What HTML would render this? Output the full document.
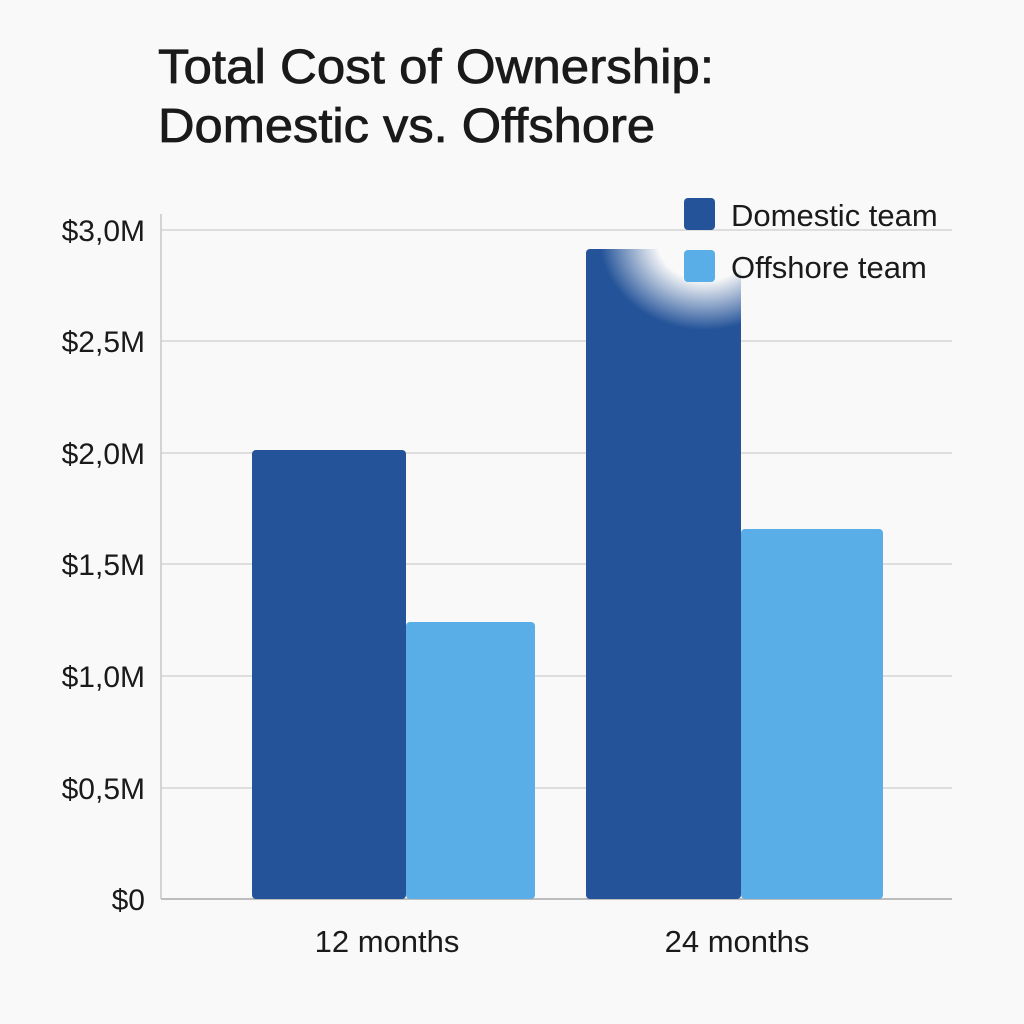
<!DOCTYPE html>
<html><head><style>
body{margin:0;background:#f9f9f9;}
svg{display:block;font-family:"Liberation Sans",sans-serif;}
</style></head><body>
<svg width="1024" height="1024" viewBox="0 0 1024 1024">
<defs>
<radialGradient id="b" cx="0.5" cy="0.5" r="0.5">
<stop offset="0" stop-color="#f9f9f9" stop-opacity="1"/>
<stop offset="0.45" stop-color="#f9f9f9" stop-opacity="1"/>
<stop offset="1" stop-color="#f9f9f9" stop-opacity="0"/>
</radialGradient>
<clipPath id="c"><rect x="586" y="249" width="155" height="650"/></clipPath>
</defs>
<rect width="1024" height="1024" fill="#f9f9f9"/>
<g fill="#1a1a1a" stroke="#1a1a1a" stroke-width="0.8" font-size="48">
<text x="158" y="83" textLength="556" lengthAdjust="spacingAndGlyphs">Total Cost of Ownership:</text>
<text x="158" y="142" textLength="497" lengthAdjust="spacingAndGlyphs">Domestic vs. Offshore</text>
</g>
<g stroke="#d6d6d6" stroke-width="1.5">
<line x1="161" y1="230" x2="952" y2="230"/>
<line x1="161" y1="341" x2="952" y2="341"/>
<line x1="161" y1="453" x2="952" y2="453"/>
<line x1="161" y1="564" x2="952" y2="564"/>
<line x1="161" y1="676" x2="952" y2="676"/>
<line x1="161" y1="788" x2="952" y2="788"/>
</g>
<line x1="161" y1="899" x2="952" y2="899" stroke="#bdbdbd" stroke-width="2"/>
<line x1="161" y1="214" x2="161" y2="899" stroke="#c8c8c8" stroke-width="1.5"/>
<g font-size="30" fill="#1a1a1a" text-anchor="end">
<text x="145" y="241">$3,0M</text>
<text x="145" y="352">$2,5M</text>
<text x="145" y="464">$2,0M</text>
<text x="145" y="575">$1,5M</text>
<text x="145" y="687">$1,0M</text>
<text x="145" y="799">$0,5M</text>
<text x="145" y="910">$0</text>
</g>
<rect x="252" y="450" width="154" height="449" rx="4" fill="#245399"/>
<rect x="406" y="622" width="129" height="277" rx="4" fill="#5aaee8"/>
<rect x="586" y="249" width="155" height="650" rx="4" fill="#245399"/>
<g clip-path="url(#c)"><ellipse cx="705" cy="240" rx="105" ry="90" fill="url(#b)"/></g>
<rect x="741" y="529" width="142" height="370" rx="4" fill="#5aaee8"/>
<g font-size="31" fill="#1a1a1a" text-anchor="middle">
<text x="387" y="952">12 months</text>
<text x="737" y="952">24 months</text>
</g>
<rect x="684" y="198" width="31" height="32" rx="4" fill="#245399"/>
<rect x="684" y="250" width="31" height="32" rx="4" fill="#5aaee8"/>
<g font-size="31" fill="#1a1a1a">
<text x="731" y="226">Domestic team</text>
<text x="731" y="278">Offshore team</text>
</g>
</svg>
</body></html>
